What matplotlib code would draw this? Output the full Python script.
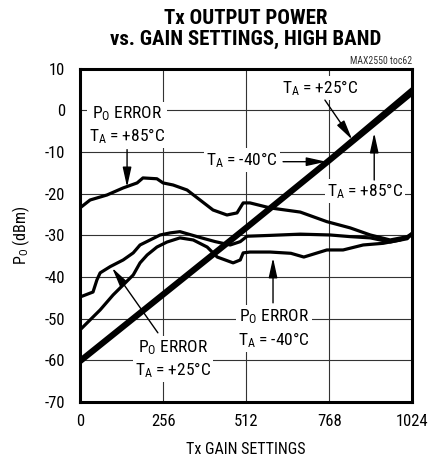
import matplotlib
matplotlib.use('Agg')
import matplotlib.pyplot as plt

plt.rcParams['font.family'] = ['Roboto Condensed', 'Liberation Sans Narrow', 'Liberation Sans',
                               'DejaVu Sans']
plt.rcParams['mathtext.default'] = 'regular'
plt.rcParams['axes.unicode_minus'] = False

# main output power lines (nearly on top of each other)
gain_x = [0, 256, 512, 768, 1024]
pout_m40 = [-60.6, -44.6, -28.6, -12.4, 4.0]
pout_25 = [-60.2, -44.2, -28.2, -12.0, 4.6]
pout_85 = [-59.8, -43.8, -27.8, -11.6, 5.2]

# output power error curves
err85_x = [0, 31, 83, 133, 176, 194, 237, 256, 287, 330, 370, 410, 453, 484, 503,
           524, 586, 679, 761, 833, 895, 956, 1009, 1024]
err85_y = [-23.4, -21.5, -20.3, -18.6, -17.4, -16.2, -16.4, -17.4, -17.9, -19.1, -21.5,
           -23.9, -25.1, -24.6, -22.2, -22.2, -23.4, -24.4, -26.7, -28.2, -29.9, -31.1,
           -30.3, -29.5]

err25_x = [0, 40, 52, 62, 93, 133, 164, 185, 216, 247, 278, 308, 370, 417, 463, 494,
           515, 586, 679, 771, 833, 895, 956, 1009, 1024]
err25_y = [-44.8, -43.6, -40.7, -39.0, -37.5, -35.9, -34.2, -32.3, -31.1, -29.9, -29.4,
           -29.1, -30.5, -31.5, -32.3, -31.5, -30.2, -30.0, -29.7, -29.9, -30.3, -30.6,
           -31.6, -30.8, -29.5]

err40_x = [0, 31, 62, 102, 133, 164, 185, 207, 237, 268, 308, 349, 392, 423, 472, 494,
           503, 524, 586, 650, 690, 761, 811, 873, 935, 987, 1024]
err40_y = [-52.7, -50.3, -47.9, -44.3, -41.9, -39.5, -36.6, -34.7, -32.8, -31.6, -30.6,
           -31.1, -32.8, -35.2, -36.6, -35.9, -34.2, -34.0, -34.0, -34.3, -35.2, -33.5,
           -33.5, -32.3, -31.9, -31.1, -29.9]

x_ticks = [0, 256, 512, 768, 1024]
y_ticks = [-70, -60, -50, -40, -30, -20, -10, 0, 10]

fig = plt.figure(figsize=(4.28, 4.62), dpi=100)
ax = fig.add_axes([0.187, 0.130, 0.776, 0.721])

for v in x_ticks[1:-1]:
    ax.axvline(v, color='#333333', lw=0.8, zorder=1)
for v in y_ticks[1:-1]:
    ax.axhline(v, color='#333333', lw=0.8, zorder=1)

ax.plot(gain_x, pout_m40, color='black', lw=2.6, zorder=3)
ax.plot(gain_x, pout_25, color='black', lw=2.6, zorder=3)
ax.plot(gain_x, pout_85, color='black', lw=2.6, zorder=3)
ax.plot(err85_x, err85_y, color='black', lw=2.3, zorder=3)
ax.plot(err25_x, err25_y, color='black', lw=2.3, zorder=3)
ax.plot(err40_x, err40_y, color='black', lw=2.3, zorder=3)

ax.set_xlim(0, 1024)
ax.set_ylim(-70, 10)
ax.set_xticks(x_ticks)
ax.set_yticks(y_ticks)
ax.tick_params(length=0, labelsize=12)
ax.tick_params(axis='x', pad=9)
ax.tick_params(axis='y', pad=11)
for s in ax.spines.values():
    s.set_linewidth(2.2)

ax.set_xlabel('Tx GAIN SETTINGS', fontsize=11.5, labelpad=9)
ax.set_ylabel('P$_O$ (dBm)', fontsize=11.5, labelpad=9)

fig.text(0.575, 0.937, 'Tx OUTPUT POWER\nvs. GAIN SETTINGS, HIGH BAND', ha='center',
         va='center', fontsize=15, fontweight='heavy', linespacing=1.1)
fig.text(0.963, 0.858, 'MAX2550 toc62', ha='right', va='bottom', fontsize=7,
         color='#333333')

box = dict(facecolor='white', edgecolor='none', pad=1.5)
arrow = dict(arrowstyle='-|>,head_length=1.0,head_width=0.22', color='black', lw=1,
             mutation_scale=12, shrinkA=0, shrinkB=0)
fs = 12.5

ax.text(145, -3.5, 'P$_O$ ERROR\nT$_A$ = +85°C', ha='center', va='center', fontsize=fs,
        bbox=box, zorder=4, linespacing=1.25)
ax.annotate('', xy=(145, -18.4), xytext=(145, -9.4), arrowprops=arrow, zorder=4)

ax.text(740, 5.4, 'T$_A$ = +25°C', ha='center', va='center', fontsize=fs, bbox=box, zorder=4)
ax.annotate('', xy=(839, -7.0), xytext=(755, 2.5), arrowprops=arrow, zorder=4)

ax.text(500, -11.9, 'T$_A$ = -40°C', ha='center', va='center', fontsize=fs, bbox=box, zorder=4)
ax.annotate('', xy=(759, -12.3), xytext=(626, -12.3), arrowprops=arrow, zorder=4)

ax.text(879, -19.3, 'T$_A$ = +85°C', ha='center', va='center', fontsize=fs, bbox=box, zorder=4)
ax.annotate('', xy=(907, -5.4), xytext=(907, -16.7), arrowprops=arrow, zorder=4)

ax.text(287, -59.7, 'P$_O$ ERROR\nT$_A$ = +25°C', ha='center', va='center', fontsize=fs,
        bbox=box, zorder=4, linespacing=1.25)
ax.annotate('', xy=(99, -37.8), xytext=(240, -53.4), arrowprops=arrow, zorder=4)

ax.text(598, -52.4, 'P$_O$ ERROR\nT$_A$ = -40°C', ha='center', va='center', fontsize=fs,
        bbox=box, zorder=4, linespacing=1.25)
ax.annotate('', xy=(595, -35.4), xytext=(595, -46.2), arrowprops=arrow, zorder=4)

fig.savefig('out.png', dpi=100)
